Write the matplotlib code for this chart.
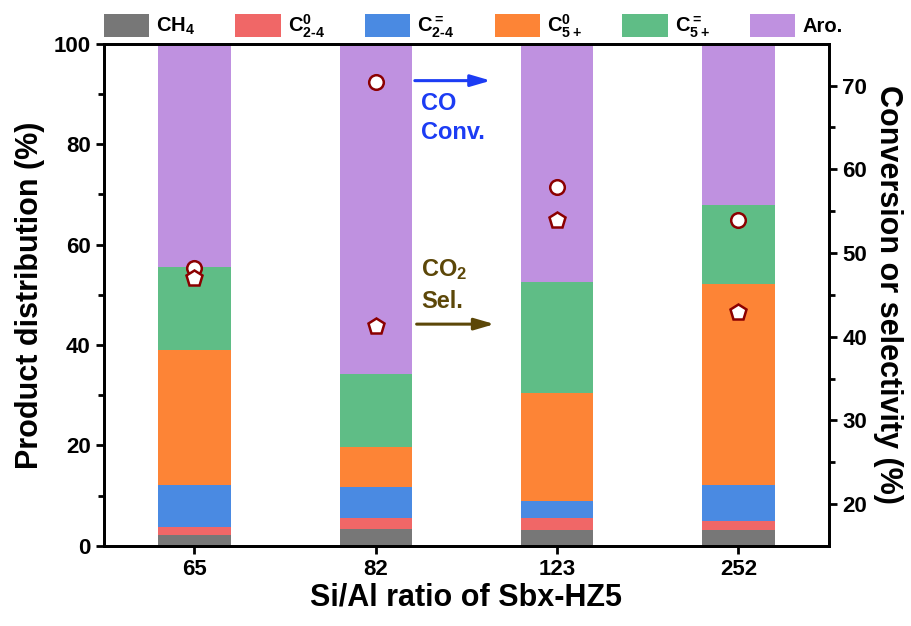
import numpy as np
import matplotlib
matplotlib.use('Agg')
import matplotlib.pyplot as plt

plt.rcParams['font.family'] = ['Liberation Sans', 'DejaVu Sans']
plt.rcParams['font.weight'] = 'bold'
plt.rcParams['mathtext.fontset'] = 'custom'
plt.rcParams['mathtext.rm'] = 'Liberation Sans:bold'
plt.rcParams['mathtext.it'] = 'Liberation Sans:bold'
plt.rcParams['mathtext.bf'] = 'Liberation Sans:bold'

# Si/Al ratio categories
ratios = ['65', '82', '123', '252']

# product distribution (%) for each layer, stacked bottom to top
ch4 = [2.2, 3.3, 3.2, 3.1]
c24_par = [1.6, 2.3, 2.3, 1.8]
c24_ole = [8.3, 6.1, 3.4, 7.2]
c5_par = [27.0, 8.0, 21.5, 40.1]
c5_ole = [16.5, 14.6, 22.1, 15.7]
aro = [44.4, 65.7, 47.5, 32.1]

layer_names = [r'CH$_4$', r'C$^0_{2\text{-}4}$', r'C$^=_{2\text{-}4}$',
               r'C$^0_{5+}$', r'C$^=_{5+}$', 'Aro.']
layer_colors = ['#777777', '#f06767', '#4a8ae2', '#fd8436', '#5fbd86', '#bf91e0']

# right axis: CO conversion and CO2 selectivity (%)
co_conv = [48.2, 70.4, 57.9, 53.9]
co2_sel = [47.0, 41.3, 53.9, 42.9]

fig = plt.figure(figsize=(9.11, 6.26), dpi=100)
ax = fig.add_axes([0.114, 0.128, 0.796, 0.802])

x = np.arange(len(ratios))
bottom = np.zeros(len(ratios))
layers = [ch4, c24_par, c24_ole, c5_par, c5_ole, aro]
for vals, name, col in zip(layers, layer_names, layer_colors):
    ax.bar(x, vals, 0.4, bottom=bottom, color=col, label=name, linewidth=0)
    bottom += np.array(vals)

ax.set_xlim(-0.5, 3.5)
ax.set_ylim(0, 100)
ax.set_xticks(x)
ax.set_xticklabels(ratios)
ax.set_yticks(np.arange(0, 101, 20))
ax.set_yticks(np.arange(10, 100, 20), minor=True)
ax.set_xlabel('Si/Al ratio of Sbx-HZ5', fontsize=22, fontweight='bold', labelpad=2)
ax.set_ylabel('Product distribution (%)', fontsize=22, fontweight='bold', labelpad=6)
ax.tick_params(axis='both', labelsize=16, width=2, length=6)
ax.tick_params(axis='y', which='minor', width=2, length=4)
ax.tick_params(axis='x', which='minor', bottom=False)
for s in ax.spines.values():
    s.set_linewidth(2)

ax2 = ax.twinx()
ax2.plot(x, co_conv, 'o', ms=10.5, mfc='white', mec='#8b0000', mew=1.8)
ax2.plot(x, co2_sel, 'p', ms=12, mfc='white', mec='#8b0000', mew=1.8)
ax2.set_ylim(15, 75)
ax2.set_yticks(np.arange(20, 71, 10))
ax2.set_yticks(np.arange(25, 75, 10), minor=True)
ax2.tick_params(axis='y', labelsize=16, width=2, length=6)
ax2.tick_params(axis='y', which='minor', width=2, length=4)
ax2.set_ylabel('Conversion or selectivity (%)', fontsize=22, fontweight='bold',
               rotation=270, labelpad=26)
for s in ax2.spines.values():
    s.set_linewidth(2)

# arrows pointing to the right axis
ax2.annotate('', xy=(1.65, 70.6), xytext=(1.2, 70.6),
             arrowprops=dict(arrowstyle='-|>,head_length=1.2,head_width=0.35',
                             color='#1c3cf4', lw=2.2))
ax2.text(1.25, 67.9, 'CO', color='#1c3cf4', fontsize=17, fontweight='bold', va='center')
ax2.text(1.25, 64.4, 'Conv.', color='#1c3cf4', fontsize=17, fontweight='bold', va='center')
ax2.annotate('', xy=(1.67, 41.5), xytext=(1.21, 41.5),
             arrowprops=dict(arrowstyle='-|>,head_length=1.2,head_width=0.35',
                             color='#5c4708', lw=2.2))
ax2.text(1.25, 48.0, r'CO$_2$', color='#5c4708', fontsize=17, fontweight='bold', va='center')
ax2.text(1.25, 44.2, 'Sel.', color='#5c4708', fontsize=17, fontweight='bold', va='center')

ax.legend(loc='lower left', bbox_to_anchor=(-0.006, 1.0), ncol=6, frameon=False,
          fontsize=14.5, handlelength=2.25, handleheight=1.35, handletextpad=0.35,
          columnspacing=2.0, borderaxespad=0, borderpad=0.2)

fig.savefig('out.png', dpi=100)
